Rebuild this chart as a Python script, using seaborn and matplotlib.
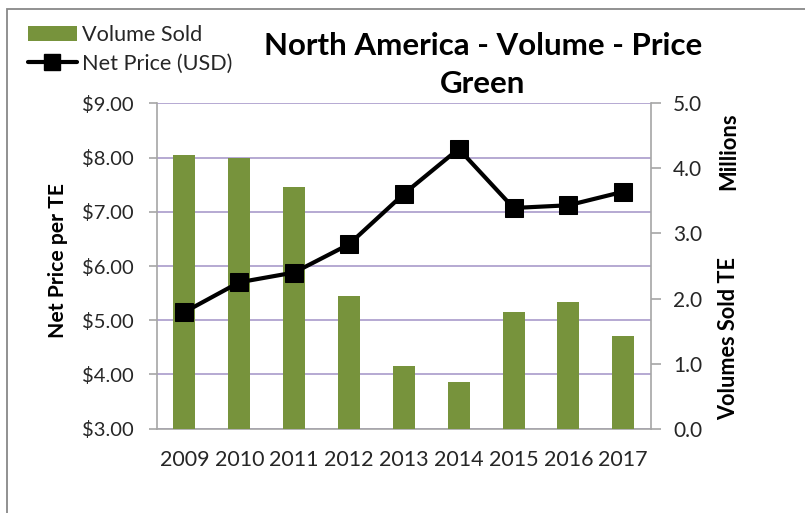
import matplotlib
matplotlib.use("Agg")
import matplotlib.pyplot as plt
import seaborn as sns
import pandas as pd
from matplotlib.patches import Rectangle
from matplotlib.lines import Line2D
from matplotlib.ticker import FixedLocator

years = ["2009", "2010", "2011", "2012", "2013", "2014", "2015", "2016", "2017"]
volume_millions = [4.20, 4.16, 3.72, 2.04, 0.97, 0.72, 1.79, 1.95, 1.42]
net_price_usd = [5.15, 5.70, 5.88, 6.40, 7.33, 8.16, 7.07, 7.12, 7.37]
price_ticks = [3, 4, 5, 6, 7, 8, 9]
volume_ticks = [0, 1, 2, 3, 4, 5]
title_lines = ["North America - Volume - Price", "Green"]

df = pd.DataFrame({"Year": years, "Volume": volume_millions, "Price": net_price_usd})

sns.set_theme(style="white")
FONT = ["Lato", "DejaVu Sans"]
plt.rcParams["font.family"] = FONT

GREEN = "#77933C"
GRID = "#A99BCB"
SPINE = "#A6A6A6"
TXT = "#262626"

fig = plt.figure(figsize=(8.05, 5.13), dpi=100)
ax = fig.add_axes([0.195, 0.1643, 0.8083 - 0.195, 0.7986 - 0.1643])
ax_bar = ax.twinx()
ax_line = ax.twinx()

# price axis (left) with gridlines
ax.set_ylim(3, 9)
ax.set_xlim(-0.5, 8.5)
ax.yaxis.set_major_locator(FixedLocator(price_ticks))
ax.set_yticklabels([f"${v:.2f}" for v in price_ticks])
ax.grid(axis="y", color=GRID, linewidth=1.2)
ax.grid(axis="x", visible=False)

# volume bars
sns.barplot(data=df, x="Year", y="Volume", ax=ax_bar, color=GREEN, width=0.4,
            saturation=1, edgecolor="none")
ax_bar.set_ylim(0, 5)
ax_bar.set_xlim(-0.5, 8.5)
ax_bar.yaxis.set_major_locator(FixedLocator(volume_ticks))
ax_bar.set_yticklabels([f"{v:.1f}" for v in volume_ticks])
ax_bar.set_xlabel("")
ax_bar.set_ylabel("")

# price line
sns.lineplot(data=df, x="Year", y="Price", ax=ax_line, color="black", linewidth=3,
             marker="s", markersize=13, markeredgecolor="black", sort=False)
ax_line.set_ylim(3, 9)
ax_line.set_xlim(-0.5, 8.5)
ax_line.set_xlabel("")
ax_line.set_ylabel("")
ax_line.set_yticks([])
for s in ax_line.spines.values():
    s.set_visible(False)

for a in (ax, ax_bar):
    for s in a.spines.values():
        s.set_visible(False)
ax.spines["left"].set_visible(True)
ax.spines["bottom"].set_visible(True)
ax_bar.spines["right"].set_visible(True)
for sp in (ax.spines["left"], ax.spines["bottom"], ax_bar.spines["right"]):
    sp.set_color(SPINE)
    sp.set_linewidth(1.2)

ax.set_xticks(range(len(years)))
ax.set_xticklabels(years)
ax.tick_params(axis="x", length=0, pad=15, labelsize=15.5, labelcolor=TXT)
ax.tick_params(axis="y", length=6, width=1.2, color=SPINE, pad=11, labelsize=14.5,
               labelcolor=TXT, left=True)
ax_bar.tick_params(axis="y", length=7, width=1.2, color=SPINE, pad=9, labelsize=15,
                   labelcolor=TXT, right=True)
ax_bar.tick_params(axis="x", length=0, labelbottom=False)
ax_line.tick_params(axis="x", length=0, labelbottom=False)

# axis titles
fig.text(58 / 805, 1 - 261 / 513, "Net Price per TE", rotation=90, ha="center",
         va="center", fontsize=15.2, fontweight="bold", color="black")
fig.text(729 / 805, 1 - 151 / 513, "Millions", rotation=90, ha="center",
         va="center", fontsize=15.8, fontweight="bold", color="black")
fig.text(729 / 805, 1 - 339 / 513, "Volumes Sold TE", rotation=90, ha="center",
         va="center", fontsize=15.6, fontweight="bold", color="black")

# title (two lines as separate texts)
fig.text(483 / 805, 1 - 46 / 513, title_lines[0], ha="center", va="center",
         fontsize=22.5, fontweight="bold", color="black")
fig.text(483 / 805, 1 - 84 / 513, title_lines[1], ha="center", va="center",
         fontsize=22.5, fontweight="bold", color="black")

# legend
handles = [Rectangle((0, 0), 1, 1, facecolor=GREEN, edgecolor="none"),
           Line2D([0], [0], color="black", linewidth=3, marker="s", markersize=11)]
fig.legend(handles, ["Volume Sold", "Net Price (USD)"], loc="upper left",
           bbox_to_anchor=(28 / 805, 1 - 25 / 513), frameon=False, fontsize=15.6,
           handlelength=2.25, handletextpad=0.25, labelspacing=0.4,
           borderaxespad=0, borderpad=0, labelcolor=TXT)

# chart frame (cropped screenshot border)
fig.patches.append(Rectangle((7 / 805, -0.05), 1.2, 1 - 9 / 513 + 0.05,
                             transform=fig.transFigure, fill=False,
                             edgecolor="#888888", linewidth=1.3))

fig.savefig("out.png", dpi=100)
